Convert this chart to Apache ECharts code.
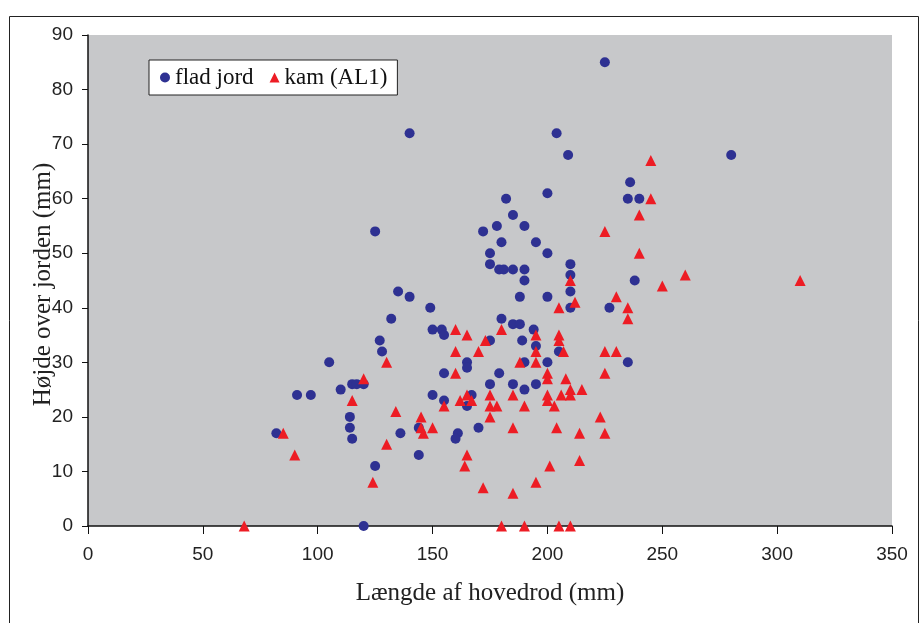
<!DOCTYPE html>
<html>
<head>
<meta charset="utf-8">
<script src="https://cdn.jsdelivr.net/npm/echarts@6/dist/echarts.min.js"></script>
<style>
html, body { margin: 0; padding: 0; background: #fff; }
#chart-container { width: 920px; height: 623px; }
</style>
</head>
<body>
<div id="chart-container"></div>
<script>
// x = længde af hovedrod (mm), y = højde over jorden (mm)
var fladJord = [
    [225,85],[140,72],[204,72],[209,68],[280,68],[236,63],[200,61],[182,60],[235,60],[240,60],
    [185,57],[178,55],[190,55],[125,54],[172,54],[180,52],[195,52],[175,50],[200,50],[175,48],
    [210,48],[179,47],[181,47],[185,47],[190,47],[210,46],[190,45],[238,45],[135,43],[210,43],
    [140,42],[188,42],[200,42],[149,40],[210,40],[227,40],[132,38],[180,38],[185,37],[188,37],
    [150,36],[154,36],[194,36],[155,35],[127,34],[175,34],[189,34],[195,33],[128,32],[205,32],
    [105,30],[165,30],[190,30],[200,30],[235,30],[165,29],[155,28],[179,28],[115,26],[117,26],
    [120,26],[175,26],[185,26],[195,26],[110,25],[190,25],[91,24],[97,24],[150,24],[167,24],
    [155,23],[165,22],[114,20],[114,18],[144,18],[170,18],[82,17],[136,17],[161,17],[115,16],
    [160,16],[144,13],[125,11],[120,0]
];

var kam = [
    [245,67],[245,60],[240,57],[225,54],[240,50],[260,46],[210,45],[310,45],[250,44],[230,42],
    [212,41],[205,40],[235,40],[235,38],[160,36],[180,36],[165,35],[195,35],[205,35],[173,34],
    [205,34],[160,32],[170,32],[195,32],[207,32],[225,32],[230,32],[130,30],[188,30],[195,30],
    [160,28],[200,28],[225,28],[120,27],[200,27],[208,27],[210,25],[215,25],[165,24],[175,24],
    [185,24],[200,24],[206,24],[210,24],[115,23],[162,23],[167,23],[200,23],[134,21],[155,22],
    [175,22],[178,22],[190,22],[203,22],[145,20],[175,20],[223,20],[145,18],[150,18],[185,18],
    [204,18],[85,17],[146,17],[214,17],[225,17],[130,15],[90,13],[165,13],[214,12],[164,11],
    [201,11],[124,8],[195,8],[172,7],[185,6],[68,0],[180,0],[190,0],[205,0],[210,0]
];

var seriesNames = ['flad jord', 'kam (AL1)'];

var dom = document.getElementById('chart-container');
var myChart = echarts.init(dom, null, { renderer: 'canvas' });

var labelFont = { color: '#222', fontFamily: 'Liberation Sans', fontSize: 19 };

var option = {
    animation: false,
    graphic: [{
        type: 'rect',
        shape: { x: 9.5, y: 16.5, width: 909, height: 640 },
        style: { fill: null, stroke: '#222', lineWidth: 1 },
        silent: true
    }],
    grid: {
        left: 88, right: 28, top: 35, bottom: 97,
        show: true,
        backgroundColor: '#c7c8ca',
        borderWidth: 0
    },
    legend: {
        left: 149, top: 60,
        orient: 'horizontal',
        backgroundColor: '#fff',
        borderColor: '#222',
        borderWidth: 1,
        borderRadius: 0,
        padding: [6, 10, 6, 11],
        itemWidth: 10, itemHeight: 10,
        itemGap: 16,
        textStyle: { color: '#111', fontFamily: 'Liberation Serif', fontSize: 23 },
        data: [
            { name: seriesNames[0], icon: 'circle' },
            { name: seriesNames[1], icon: 'triangle' }
        ]
    },
    xAxis: {
        type: 'value',
        min: 0, max: 350, interval: 50,
        name: 'Længde af hovedrod (mm)',
        nameLocation: 'middle',
        nameGap: 55,
        nameMoveOverlap: false,
        nameTextStyle: { color: '#222', fontFamily: 'Liberation Serif', fontSize: 25 },
        splitLine: { show: false },
        axisLine: { show: true, lineStyle: { color: '#111', width: 1.5 } },
        axisTick: { show: true, length: 8, lineStyle: { color: '#111' } },
        axisLabel: Object.assign({ margin: 19 }, labelFont)
    },
    yAxis: {
        type: 'value',
        min: 0, max: 90, interval: 10,
        name: 'Højde over jorden (mm)',
        nameLocation: 'middle',
        nameGap: 32,
        nameMoveOverlap: false,
        nameTextStyle: {
            color: '#222', fontFamily: 'Liberation Serif', fontSize: 25,
            padding: [0, 8, 0, 0]
        },
        splitLine: { show: false },
        axisLine: { show: true, lineStyle: { color: '#111', width: 1.5 } },
        axisTick: { show: true, length: 6, lineStyle: { color: '#111' } },
        axisLabel: Object.assign({ margin: 15 }, labelFont)
    },
    series: [
        {
            name: seriesNames[0],
            type: 'scatter',
            symbol: 'circle',
            symbolSize: 10,
            itemStyle: { color: '#2e3192', opacity: 1 },
            data: fladJord
        },
        {
            name: seriesNames[1],
            type: 'scatter',
            symbol: 'triangle',
            symbolSize: 11,
            itemStyle: { color: '#ed1c24', opacity: 1 },
            data: kam
        }
    ]
};

myChart.setOption(option);
window.addEventListener('resize', myChart.resize);
</script>
</body>
</html>
